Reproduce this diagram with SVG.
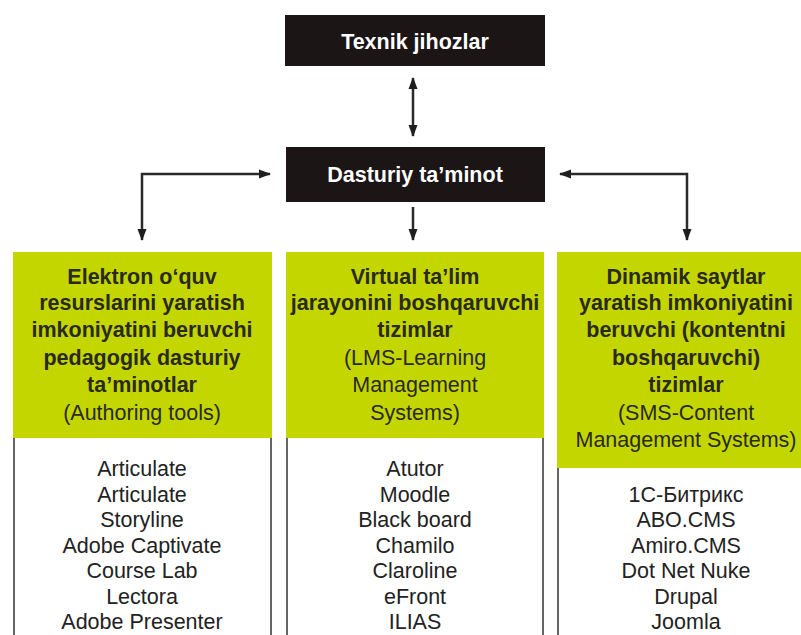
<svg xmlns="http://www.w3.org/2000/svg" width="801" height="635" viewBox="0 0 801 635">
<defs>
<style>
.dark{fill:#1b1515}
.hdr{fill:#c4d600}
.wt{fill:#fff;font-family:"Liberation Sans",Arial,sans-serif;font-weight:bold;font-size:21.5px;text-anchor:middle}
.hb{fill:#2a2a1c;font-family:"Liberation Sans",Arial,sans-serif;font-weight:bold;font-size:21.5px;text-anchor:middle}
.hr{fill:#2a2a1c;font-family:"Liberation Sans",Arial,sans-serif;font-size:21.5px;text-anchor:middle}
.li{fill:#222;font-family:"Liberation Sans",Arial,sans-serif;font-size:21.5px;text-anchor:middle}
.bd{stroke:#666;stroke-width:2;fill:none}
.cn{stroke:#2a2a2a;stroke-width:2.5;fill:none}
</style>
<marker id="ah" markerUnits="userSpaceOnUse" markerWidth="12" markerHeight="10" refX="11" refY="5" orient="auto-start-reverse">
<path d="M0,0.5 L12,5 L0,9.5 z" fill="#1e1e1e"/>
</marker>
</defs>
<rect width="801" height="635" fill="#fff"/>

<g id="texnik">
<rect class="dark" x="285" y="15" width="260" height="51"/>
<text class="wt" x="415" y="49">Texnik jihozlar</text>
</g>

<g id="dasturiy">
<rect class="dark" x="286" y="147" width="259" height="55"/>
<text class="wt" x="415" y="182">Dasturiy ta’minot</text>
</g>

<g id="connectors">
<path class="cn" d="M413,78 V136" marker-start="url(#ah)" marker-end="url(#ah)"/>
<path class="cn" d="M270,174 H142 V240" marker-start="url(#ah)" marker-end="url(#ah)"/>
<path class="cn" d="M560,174 H687 V240" marker-start="url(#ah)" marker-end="url(#ah)"/>
<path class="cn" d="M413,207 V240" marker-end="url(#ah)"/>
</g>

<g id="authoring">
<rect class="hdr" x="13" y="252" width="259" height="186"/>
<path class="bd" d="M14,438 V635 M271,438 V635"/>
<text class="hb" x="142" y="284">Elektron o‘quv</text>
<text class="hb" x="142" y="310">resurslarini yaratish</text>
<text class="hb" x="142" y="337">imkoniyatini beruvchi</text>
<text class="hb" x="142" y="365">pedagogik dasturiy</text>
<text class="hb" x="142" y="392">ta’minotlar</text>
<text class="hr" x="142" y="420">(Authoring tools)</text>
<text class="li" x="142" y="476">Articulate</text>
<text class="li" x="142" y="501.5">Articulate</text>
<text class="li" x="142" y="527">Storyline</text>
<text class="li" x="142" y="552.5">Adobe Captivate</text>
<text class="li" x="142" y="578">Course Lab</text>
<text class="li" x="142" y="603.5">Lectora</text>
<text class="li" x="142" y="629">Adobe Presenter</text>
</g>

<g id="lms">
<rect class="hdr" x="286" y="252" width="258" height="186"/>
<path class="bd" d="M287,438 V635 M543,438 V635"/>
<text class="hb" x="415" y="284">Virtual ta’lim</text>
<text class="hb" x="415" y="310">jarayonini boshqaruvchi</text>
<text class="hb" x="415" y="337">tizimlar</text>
<text class="hr" x="415" y="365">(LMS-Learning</text>
<text class="hr" x="415" y="392">Management</text>
<text class="hr" x="415" y="420">Systems)</text>
<text class="li" x="415" y="476">Atutor</text>
<text class="li" x="415" y="501.5">Moodle</text>
<text class="li" x="415" y="527">Black board</text>
<text class="li" x="415" y="552.5">Chamilo</text>
<text class="li" x="415" y="578">Claroline</text>
<text class="li" x="415" y="603.5">eFront</text>
<text class="li" x="415" y="629">ILIAS</text>
</g>

<g id="cms">
<rect class="hdr" x="557" y="252" width="250" height="216"/>
<path class="bd" d="M558,468 V635"/>
<text class="hb" x="686" y="284">Dinamik saytlar</text>
<text class="hb" x="686" y="310">yaratish imkoniyatini</text>
<text class="hb" x="686" y="337">beruvchi (kontentni</text>
<text class="hb" x="686" y="365">boshqaruvchi)</text>
<text class="hb" x="686" y="392">tizimlar</text>
<text class="hr" x="686" y="420">(SMS-Content</text>
<text class="hr" x="686" y="447">Management Systems)</text>
<text class="li" x="686" y="501.5">1С-Битрикс</text>
<text class="li" x="686" y="527">ABO.CMS</text>
<text class="li" x="686" y="552.5">Amiro.CMS</text>
<text class="li" x="686" y="578">Dot Net Nuke</text>
<text class="li" x="686" y="603.5">Drupal</text>
<text class="li" x="686" y="629">Joomla</text>
</g>
</svg>
